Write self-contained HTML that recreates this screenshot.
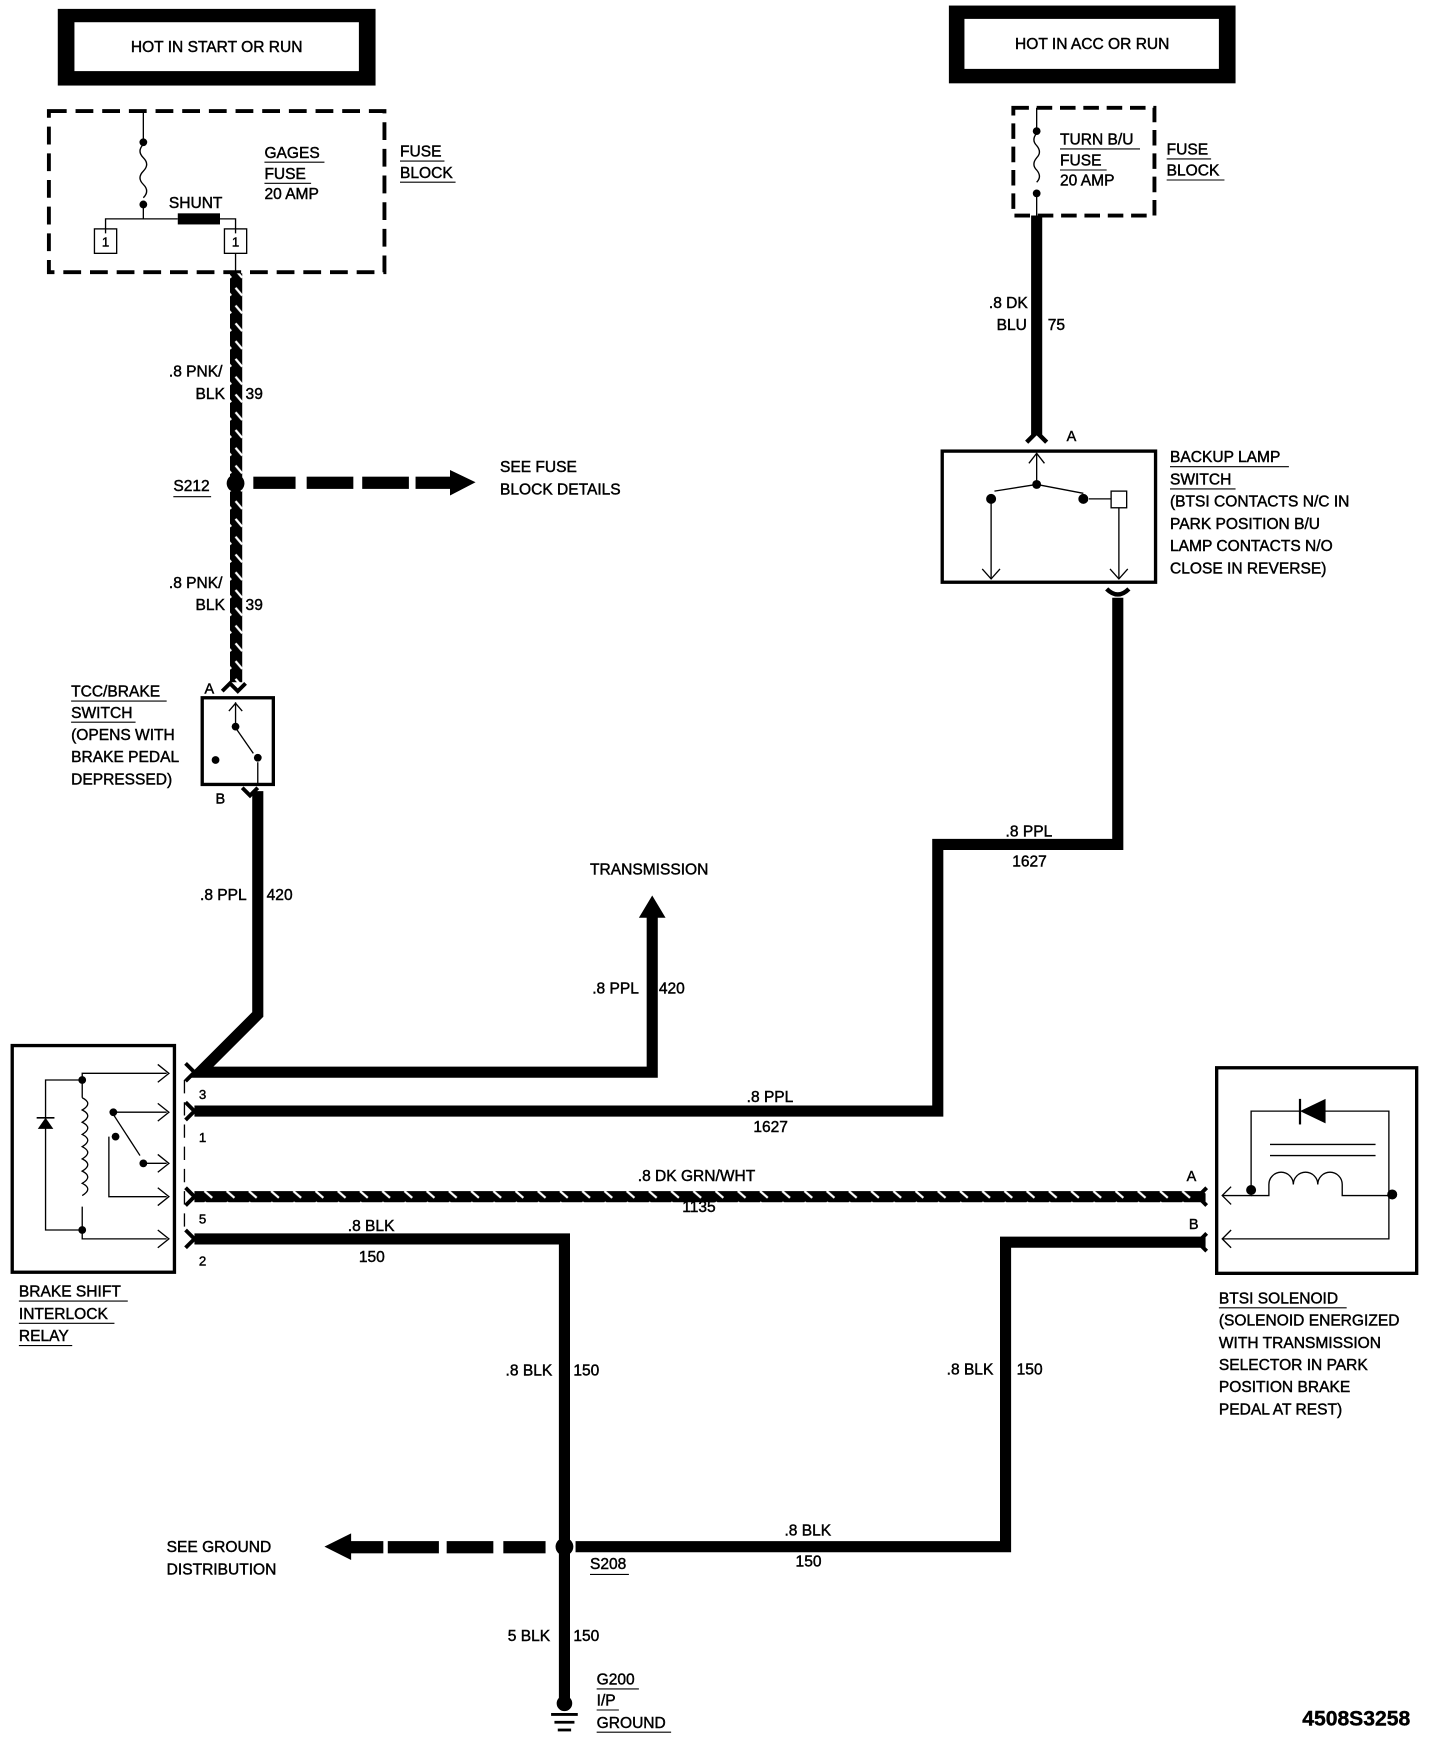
<!DOCTYPE html>
<html><head><meta charset="utf-8"><style>
html,body{margin:0;padding:0;background:#fff}
svg{display:block}
text{font-family:"Liberation Sans",sans-serif;font-size:14px;fill:#000;stroke:#000;stroke-width:0.4}
</style></head><body>
<svg width="1440" height="1740" viewBox="0 0 1296 1566" xmlns="http://www.w3.org/2000/svg">
<defs>
<pattern id="hv" patternUnits="userSpaceOnUse" width="10" height="16">
<rect width="10" height="16" fill="#000"/><line x1="2" y1="3" x2="8" y2="10" stroke="#fff" stroke-width="2"/>
</pattern>
<pattern id="hh" patternUnits="userSpaceOnUse" width="20" height="10">
<rect width="20" height="10" fill="#000"/><line x1="4" y1="2" x2="11" y2="8" stroke="#fff" stroke-width="2"/>
</pattern>
</defs>
<rect width="1296" height="1566" fill="#fff"/>
<rect x="52" y="8" width="286" height="69" fill="#000"/>
<rect x="67" y="20" width="256" height="44" fill="#fff"/>
<text x="195" y="47" text-anchor="middle">HOT IN START OR RUN</text>
<rect x="854" y="5" width="258" height="70" fill="#000"/>
<rect x="868" y="17" width="229" height="45" fill="#fff"/>
<text x="983" y="44" text-anchor="middle">HOT IN ACC OR RUN</text>

<rect x="44" y="100" width="302" height="145" fill="none" stroke="#000" stroke-width="3.5" stroke-dasharray="16 8"/>
<g stroke="#000" fill="none" stroke-width="1.2">
<line x1="129" y1="100" x2="129" y2="125"/>
<path d="M129 130 q-6 6 0 12 q6 6 0 12 q-6 6 0 12 q6 6 0 12"/>
<line x1="129" y1="184" x2="129" y2="197"/>
<polyline points="95,210 95,197 160,197"/>
<polyline points="198,197 212,197 212,210"/>
<line x1="212" y1="228" x2="212" y2="246"/>
<rect x="85" y="206" width="20" height="22"/>
<rect x="202" y="206" width="20" height="22"/>
</g>
<circle cx="129" cy="128" r="3.5"/><circle cx="129" cy="184" r="3.5"/>
<rect x="160" y="192" width="38" height="10"/>
<text x="95" y="222" text-anchor="middle" style="font-size:12px">1</text>
<text x="212" y="222" text-anchor="middle" style="font-size:12px">1</text>
<text x="152" y="187">SHUNT</text>
<text x="238" y="142">GAGES</text><line x1="238" y1="146" x2="292" y2="146" stroke="#000"/>
<text x="238" y="161">FUSE</text><line x1="238" y1="165" x2="280" y2="165" stroke="#000"/>
<text x="238" y="179">20 AMP</text>
<text x="360" y="141">FUSE</text><line x1="360" y1="145" x2="400" y2="145" stroke="#000"/>
<text x="360" y="160">BLOCK</text><line x1="360" y1="164" x2="410" y2="164" stroke="#000"/>

<rect x="207" y="246" width="11" height="368" fill="url(#hv)"/>
<circle cx="212" cy="435" r="8"/>
<g fill="#000"><rect x="228" y="429" width="38" height="11"/><rect x="276" y="429" width="42" height="11"/><rect x="326" y="429" width="42" height="11"/><rect x="374" y="429" width="34" height="11"/>
<polygon points="405,423 428,434 405,446"/></g>
<text x="450" y="425">SEE FUSE</text><text x="450" y="445">BLOCK DETAILS</text>
<text x="156" y="442">S212</text><line x1="156" y1="447" x2="190" y2="447" stroke="#000"/>
<text x="152" y="339">.8 PNK/</text><text x="176" y="359">BLK</text><text x="221" y="359">39</text>
<text x="152" y="529">.8 PNK/</text><text x="176" y="549">BLK</text><text x="221" y="549">39</text>

<rect x="182" y="628" width="64" height="78" fill="none" stroke="#000" stroke-width="3"/>
<path d="M200 622 l7 -7 l7 7 l7 -7" fill="none" stroke="#000" stroke-width="3.5"/>
<path d="M222 709 l-7 7 l-7 -7" fill="none" stroke="#000" stroke-width="3.5" transform="translate(10,0)"/>
<g stroke="#000" stroke-width="1.2" fill="none"><line x1="212" y1="632" x2="212" y2="652"/><line x1="212" y1="655" x2="228" y2="678"/><line x1="232" y1="686" x2="232" y2="706"/><path d="M206 640 l6 -7 l6 7"/></g>
<circle cx="212" cy="654" r="3.5"/><circle cx="232" cy="682" r="3.5"/><circle cx="194" cy="684" r="3.5"/>
<text x="184" y="624" style="font-size:13px">A</text><text x="194" y="723" style="font-size:13px">B</text>
<text x="64" y="627">TCC/BRAKE</text><line x1="64" y1="631" x2="150" y2="631" stroke="#000"/>
<text x="64" y="646">SWITCH</text><line x1="64" y1="650" x2="122" y2="650" stroke="#000"/>
<text x="64" y="666">(OPENS WITH</text><text x="64" y="686">BRAKE PEDAL</text><text x="64" y="706">DEPRESSED)</text>

<polyline points="232,712 232,913 180,965 587,965 587,822" fill="none" stroke="#000" stroke-width="10"/>
<polygon points="575,826 587,806 599,826"/>
<text x="531" y="787">TRANSMISSION</text>
<text x="180" y="810">.8 PPL</text><text x="240" y="810">420</text>
<text x="533" y="894">.8 PPL</text><text x="593" y="894">420</text>

<rect x="912" y="97" width="127" height="97" fill="none" stroke="#000" stroke-width="3.5" stroke-dasharray="14 7"/>
<g stroke="#000" fill="none" stroke-width="1.2"><line x1="933" y1="97" x2="933" y2="115"/><path d="M933 120 q-5 6 0 11 q5 6 0 11 q-5 6 0 11 q5 6 0 11"/><line x1="933" y1="175" x2="933" y2="194"/></g>
<circle cx="933" cy="118" r="3.5"/><circle cx="933" cy="174" r="3.5"/>
<text x="954" y="130">TURN B/U</text><line x1="954" y1="134" x2="1026" y2="134" stroke="#000"/>
<text x="954" y="149">FUSE</text><line x1="954" y1="153" x2="996" y2="153" stroke="#000"/>
<text x="954" y="167">20 AMP</text>
<text x="1050" y="139">FUSE</text><line x1="1050" y1="143" x2="1090" y2="143" stroke="#000"/>
<text x="1050" y="158">BLOCK</text><line x1="1050" y1="162" x2="1102" y2="162" stroke="#000"/>
<line x1="933" y1="194" x2="933" y2="392" stroke="#000" stroke-width="10"/>
<path d="M924 398 l9 -9 l9 9" fill="none" stroke="#000" stroke-width="4"/>
<text x="890" y="277">.8 DK</text><text x="897" y="297">BLU</text><text x="943" y="297">75</text>
<text x="960" y="397" style="font-size:13px">A</text>

<rect x="848" y="406" width="192" height="118" fill="none" stroke="#000" stroke-width="3"/>
<g stroke="#000" stroke-width="1.2" fill="none">
<line x1="933" y1="408" x2="933" y2="436"/><path d="M926 417 l7 -9 l7 9"/>
<line x1="933" y1="436" x2="895" y2="442"/><line x1="933" y1="436" x2="975" y2="444"/>
<line x1="980" y1="449" x2="1000" y2="449"/><rect x="1000" y="442" width="14" height="15"/>
<line x1="892" y1="449" x2="892" y2="520"/><path d="M884 512 l8 9 l8 -9"/>
<line x1="1007" y1="457" x2="1007" y2="520"/><path d="M999 512 l8 9 l8 -9"/>
</g>
<circle cx="933" cy="436" r="4"/><circle cx="892" cy="449" r="4.5"/><circle cx="975" cy="449" r="4.5"/>
<path d="M996 530 q10 10 20 0" fill="none" stroke="#000" stroke-width="4"/>
<text x="1053" y="416">BACKUP LAMP</text><line x1="1053" y1="420" x2="1160" y2="420" stroke="#000"/>
<text x="1053" y="436">SWITCH</text><line x1="1053" y1="440" x2="1112" y2="440" stroke="#000"/>
<text x="1053" y="456">(BTSI CONTACTS N/C IN</text><text x="1053" y="476">PARK POSITION B/U</text>
<text x="1053" y="496">LAMP CONTACTS N/O</text><text x="1053" y="516">CLOSE IN REVERSE)</text>

<polyline points="175,1000 844,1000 844,760 1006,760 1006,538" fill="none" stroke="#000" stroke-width="10"/>
<text x="672" y="992">.8 PPL</text><text x="678" y="1019">1627</text>
<text x="905" y="753">.8 PPL</text><text x="911" y="780">1627</text>

<rect x="175" y="1072" width="910" height="10" fill="url(#hh)"/>
<text x="574" y="1063">.8 DK GRN/WHT</text><text x="614" y="1091">1135</text>

<polyline points="175,1115 508,1115 508,1530" fill="none" stroke="#000" stroke-width="10"/>
<polyline points="518,1392 905,1392 905,1118 1085,1118" fill="none" stroke="#000" stroke-width="10"/>
<circle cx="508" cy="1392" r="8"/>
<g fill="#000"><rect x="453" y="1387" width="38" height="11"/><rect x="402" y="1387" width="42" height="11"/><rect x="349" y="1387" width="46" height="11"/><rect x="315" y="1387" width="30" height="11"/>
<polygon points="316,1380 292,1392 316,1404"/></g>
<text x="150" y="1397">SEE GROUND</text><text x="150" y="1417">DISTRIBUTION</text>
<text x="531" y="1412">S208</text><line x1="531" y1="1417" x2="566" y2="1417" stroke="#000"/>
<text x="313" y="1108">.8 BLK</text><text x="323" y="1136">150</text>
<text x="455" y="1238">.8 BLK</text><text x="516" y="1238">150</text>
<text x="852" y="1237">.8 BLK</text><text x="915" y="1237">150</text>
<text x="706" y="1382">.8 BLK</text><text x="716" y="1410">150</text>
<text x="457" y="1477">5 BLK</text><text x="516" y="1477">150</text>
<circle cx="508" cy="1533" r="7"/>
<g stroke="#000" stroke-width="2.5"><line x1="496" y1="1543" x2="520" y2="1543"/><line x1="499" y1="1550" x2="517" y2="1550"/><line x1="502" y1="1557" x2="514" y2="1557"/></g>
<text x="537" y="1516">G200</text><line x1="537" y1="1520" x2="575" y2="1520" stroke="#000"/>
<text x="537" y="1535">I/P</text><line x1="537" y1="1539" x2="557" y2="1539" stroke="#000"/>
<text x="537" y="1555">GROUND</text><line x1="537" y1="1559" x2="604" y2="1559" stroke="#000"/>

<rect x="11" y="941" width="146" height="204" fill="none" stroke="#000" stroke-width="3"/>
<g stroke="#000" stroke-width="1.2" fill="none">
<polyline points="150,966 74,966 74,988"/>
<path d="M74 988 q10 5 0 11 q10 5 0 11 q10 5 0 11 q10 5 0 11 q10 5 0 11 q10 5 0 11 q10 5 0 11 q10 5 0 11"/>
<polyline points="74,1086 74,1115 150,1115"/>
<polyline points="74,972 41,972 41,1107 74,1107"/>
<polyline points="100,1001 150,1001"/><line x1="102" y1="1003" x2="126" y2="1040"/>
<line x1="128" y1="1047" x2="150" y2="1047"/>
<polyline points="98,1023 98,1077 150,1077"/>
<line x1="166" y1="972" x2="166" y2="1108" stroke-dasharray="12 8"/>
<path d="M142 958 l10 8 l-10 8 M142 993 l10 8 l-10 8 M142 1039 l10 8 l-10 8 M142 1069 l10 8 l-10 8 M142 1107 l10 8 l-10 8"/>
</g>
<polygon points="34,1016 48,1016 41,1006"/><line x1="33" y1="1006" x2="49" y2="1006" stroke="#000" stroke-width="1.5"/>
<circle cx="74" cy="972" r="3.5"/><circle cx="74" cy="1107" r="3.5"/><circle cx="102" cy="1001" r="3.5"/><circle cx="129" cy="1047" r="3.5"/><circle cx="104" cy="1023" r="3.5"/>
<g fill="none" stroke="#000" stroke-width="3.5"><path d="M167 957 l8 8 l-8 8"/><path d="M167 992 l8 8 l-8 8"/><path d="M167 1069 l8 8 l-8 8"/><path d="M167 1107 l8 8 l-8 8"/></g>
<text x="179" y="989" style="font-size:12px">3</text><text x="179" y="1028" style="font-size:12px">1</text><text x="179" y="1101" style="font-size:12px">5</text><text x="179" y="1139" style="font-size:12px">2</text>
<text x="17" y="1167">BRAKE SHIFT</text><line x1="17" y1="1171" x2="115" y2="1171" stroke="#000"/>
<text x="17" y="1187">INTERLOCK</text><line x1="17" y1="1191" x2="103" y2="1191" stroke="#000"/>
<text x="17" y="1207">RELAY</text><line x1="17" y1="1211" x2="65" y2="1211" stroke="#000"/>

<rect x="1095" y="961" width="180" height="185" fill="none" stroke="#000" stroke-width="3"/>
<g stroke="#000" stroke-width="1.2" fill="none">
<polyline points="1100,1076 1126,1076 1126,1000 1170,1000"/><polyline points="1192,1000 1250,1000 1250,1115 1100,1115"/>
<line x1="1143" y1="1030" x2="1238" y2="1030"/><line x1="1143" y1="1040" x2="1238" y2="1040"/>
<path d="M1126 1076 h16 v-10 a11 11 0 0 1 22 0 a11 11 0 0 1 22 0 a11 11 0 0 1 22 0 v10 h42"/>
<path d="M1108 1068 l-8 8 l8 8 M1108 1107 l-8 8 l8 8"/>
</g>
<polygon points="1170,1000 1193,989 1193,1011"/><line x1="1170" y1="989" x2="1170" y2="1012" stroke="#000" stroke-width="2"/>
<circle cx="1126" cy="1071" r="4.5"/><circle cx="1253" cy="1075" r="4.5"/>
<g fill="none" stroke="#000" stroke-width="3.5"><path d="M1086 1069 l-8 8 l8 8"/><path d="M1086 1110 l-8 8 l8 8"/></g>
<text x="1068" y="1063" style="font-size:13px">A</text><text x="1070" y="1106" style="font-size:13px">B</text>
<text x="1097" y="1173">BTSI SOLENOID</text><line x1="1097" y1="1177" x2="1212" y2="1177" stroke="#000"/>
<text x="1097" y="1193">(SOLENOID ENERGIZED</text><text x="1097" y="1213">WITH TRANSMISSION</text>
<text x="1097" y="1233">SELECTOR IN PARK</text><text x="1097" y="1253">POSITION BRAKE</text><text x="1097" y="1273">PEDAL AT REST)</text>

<text x="1172" y="1553" style="font-size:19px;font-weight:bold">4508S3258</text>
</svg>
</body></html>
